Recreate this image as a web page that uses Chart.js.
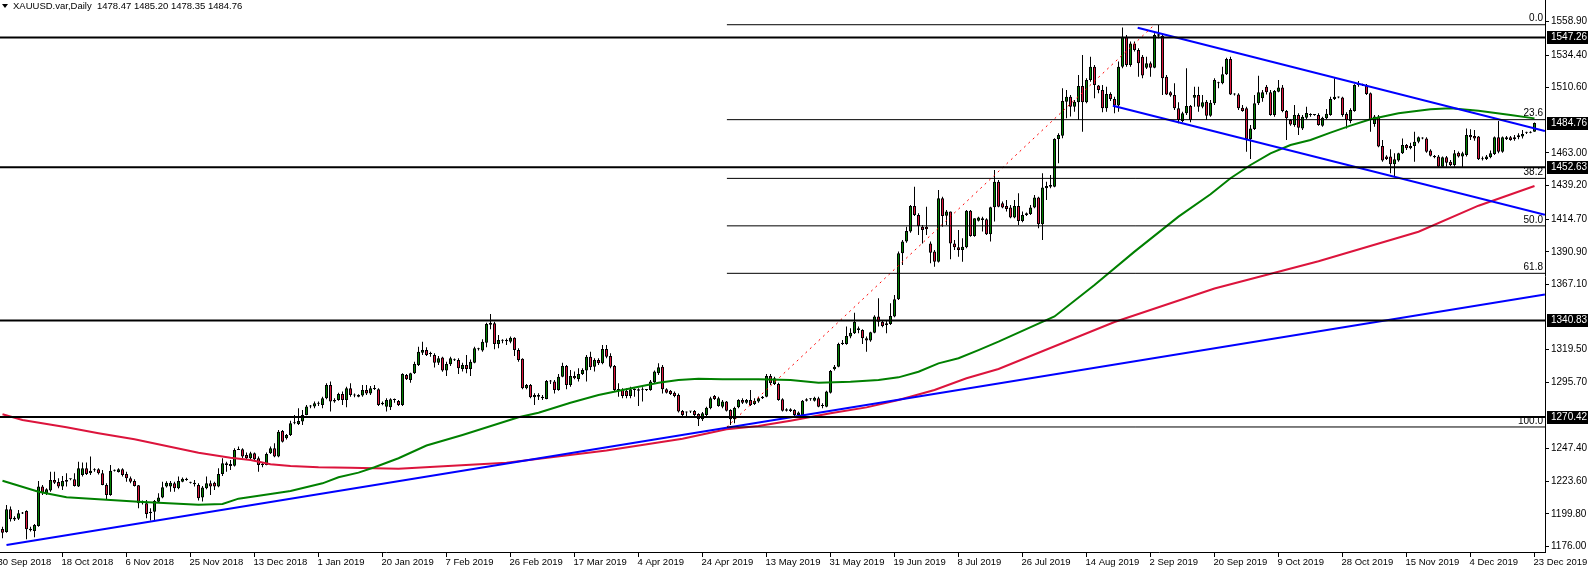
<!DOCTYPE html>
<html>
<head>
<meta charset="utf-8">
<script src="https://cdn.jsdelivr.net/npm/chart.js@4.4.1/dist/chart.umd.min.js"></script>
<style>
  html, body { margin: 0; padding: 0; background: #fff; }
  canvas { display: block; }
</style>
</head>
<body>
<canvas id="chart" width="1588" height="571"></canvas>
<script>
// daily bars, one per trading day (Sunday bars included), 1 Oct 2018 .. 23 Dec 2019
const opens = [
  1188.7, 1186.5, 1203.0, 1196.9, 1196.2, 1200.6, 1201.8, 1187.7, 1187.2, 1190.9,
  1219.6, 1214.7, 1216.7, 1224.4, 1223.0, 1219.6, 1223.2, 1224.9, 1224.9, 1219.6,
  1228.1, 1233.0, 1229.3, 1231.8, 1232.2, 1229.3, 1220.8, 1213.5, 1231.2, 1230.3,
  1232.2, 1228.8, 1225.7, 1223.7, 1220.5, 1207.4, 1207.4, 1201.3, 1201.3, 1208.6,
  1211.6, 1219.6, 1219.6, 1222.0, 1218.4, 1223.2, 1225.4, 1222.5, 1222.5, 1220.8,
  1211.6, 1218.4, 1222.0, 1222.5, 1219.6, 1228.8, 1235.4, 1236.1, 1234.9, 1246.8,
  1246.8, 1242.7, 1240.3, 1243.9, 1240.3, 1235.4, 1235.4, 1243.9, 1247.5, 1241.5,
  1260.2, 1254.8, 1257.3, 1265.8, 1265.3, 1267.0, 1271.9, 1278.0, 1278.0, 1280.0,
  1279.2, 1284.0, 1293.7, 1281.6, 1282.8, 1287.2, 1282.8, 1291.3, 1286.0, 1285.2,
  1286.0, 1290.1, 1287.6, 1290.8, 1290.6, 1279.6, 1277.9, 1277.4, 1282.8, 1282.0,
  1279.1, 1301.0, 1297.4, 1302.2, 1308.3, 1317.3, 1319.3, 1316.3, 1315.6, 1310.0,
  1313.7, 1304.2, 1308.8, 1312.5, 1312.0, 1305.4, 1308.3, 1305.4, 1310.0, 1319.8,
  1318.8, 1324.6, 1337.7, 1338.7, 1323.6, 1326.0, 1326.5, 1325.3, 1328.2, 1319.3,
  1312.9, 1291.3, 1293.7, 1284.7, 1286.4, 1285.2, 1283.5, 1296.2, 1296.2, 1290.1,
  1299.8, 1307.6, 1293.7, 1300.3, 1298.1, 1301.7, 1304.2, 1314.4, 1307.1, 1312.0,
  1309.5, 1320.0, 1314.9, 1307.6, 1290.1, 1290.3, 1289.6, 1285.7, 1290.1, 1290.6,
  1290.3, 1290.1, 1290.1, 1295.7, 1302.2, 1307.1, 1290.6, 1289.6, 1288.1, 1286.4,
  1274.8, 1273.6, 1274.3, 1274.8, 1272.6, 1268.7, 1271.8, 1276.7, 1285.7, 1278.4,
  1277.9, 1281.6, 1275.5, 1268.7, 1277.4, 1282.8, 1280.8, 1282.8, 1279.9, 1281.6,
  1284.0, 1285.2, 1300.3, 1294.5, 1294.5, 1283.3, 1276.0, 1274.8, 1275.5, 1271.8,
  1271.8, 1282.3, 1283.3, 1282.3, 1284.0, 1278.4, 1277.9, 1288.1, 1305.2, 1307.1,
  1323.6, 1323.6, 1329.0, 1331.4, 1335.1, 1333.9, 1327.8, 1326.1, 1331.9, 1343.6,
  1339.9, 1338.7, 1338.2, 1343.6, 1356.2, 1389.8, 1398.3, 1405.6, 1424.3, 1417.7,
  1409.2, 1409.2, 1397.0, 1391.0, 1383.7, 1429.9, 1417.2, 1420.2, 1397.0, 1394.1,
  1392.2, 1394.1, 1420.9, 1402.4, 1413.6, 1415.3, 1414.6, 1403.6, 1423.3, 1442.0,
  1426.3, 1424.3, 1423.1, 1415.8, 1424.3, 1413.4, 1417.7, 1418.5, 1423.1, 1430.4,
  1410.9, 1437.2, 1438.4, 1438.4, 1473.2, 1475.6, 1500.4, 1504.0, 1496.7, 1499.9,
  1511.8, 1499.9, 1516.2, 1525.9, 1512.1, 1508.9, 1495.5, 1506.0, 1502.3, 1497.5,
  1525.9, 1547.8, 1527.1, 1542.9, 1538.1, 1533.2, 1525.2, 1528.4, 1525.2, 1549.5,
  1548.5, 1518.6, 1507.2, 1505.3, 1495.5, 1486.3, 1491.9, 1497.2, 1503.3, 1505.2,
  1496.7, 1500.4, 1490.2, 1499.2, 1513.8, 1513.8, 1520.3, 1531.5, 1505.7, 1505.7,
  1496.0, 1495.5, 1473.2, 1480.4, 1499.2, 1502.8, 1511.3, 1507.2, 1490.7, 1507.7,
  1510.8, 1493.6, 1487.0, 1483.4, 1490.7, 1480.9, 1488.7, 1490.7, 1490.7, 1490.7,
  1482.9, 1488.2, 1490.7, 1502.3, 1503.5, 1503.5, 1491.4, 1486.3, 1493.6, 1512.5,
  1512.5, 1511.8, 1506.5, 1484.1, 1489.5, 1468.1, 1460.3, 1460.3, 1454.7, 1457.4,
  1462.7, 1468.8, 1466.4, 1468.1, 1471.2, 1473.6, 1473.6, 1464.7, 1460.8, 1460.3,
  1453.0, 1459.8, 1456.6, 1454.2, 1463.2, 1460.3, 1461.5, 1476.1, 1475.4, 1474.9,
  1459.1, 1458.6, 1459.8, 1462.2, 1474.4, 1463.9, 1473.0, 1474.4, 1472.9, 1474.4,
  1474.9, 1477.8, 1477.8, 1478.47
];
const highs = [
  1190.4, 1206.2, 1205.0, 1198.0, 1202.6, 1201.0, 1202.3, 1190.4, 1192.4, 1223.7,
  1220.8, 1218.4, 1230.5, 1230.5, 1225.7, 1227.4, 1229.3, 1225.6, 1229.3, 1237.8,
  1237.1, 1237.1, 1241.5, 1232.9, 1233.0, 1231.7, 1222.0, 1235.4, 1232.0, 1233.0,
  1232.9, 1230.5, 1226.9, 1224.9, 1220.8, 1209.5, 1209.9, 1203.8, 1209.9, 1214.7,
  1223.2, 1223.5, 1223.7, 1223.2, 1226.9, 1226.2, 1226.0, 1223.2, 1224.4, 1222.0,
  1220.1, 1226.9, 1224.0, 1223.2, 1233.0, 1240.3, 1237.8, 1239.0, 1247.5, 1248.8,
  1247.5, 1244.4, 1245.1, 1244.4, 1241.5, 1237.1, 1244.4, 1248.8, 1251.2, 1260.9,
  1260.9, 1258.0, 1267.7, 1271.9, 1276.7, 1275.5, 1279.2, 1279.2, 1281.6, 1281.6,
  1285.2, 1294.9, 1296.2, 1284.0, 1288.1, 1288.9, 1292.5, 1294.9, 1287.6, 1287.0,
  1293.7, 1293.7, 1293.0, 1293.7, 1291.3, 1281.6, 1284.0, 1284.0, 1283.8, 1282.8,
  1302.2, 1301.7, 1302.7, 1310.7, 1321.7, 1325.3, 1321.2, 1318.0, 1316.8, 1314.9,
  1314.4, 1310.7, 1314.4, 1313.0, 1313.2, 1310.0, 1315.6, 1312.4, 1321.7, 1320.8,
  1327.0, 1339.2, 1345.5, 1339.9, 1330.2, 1327.0, 1327.7, 1329.0, 1328.5, 1320.5,
  1313.2, 1294.5, 1294.5, 1287.7, 1287.7, 1286.4, 1297.4, 1297.4, 1297.4, 1301.7,
  1310.0, 1308.3, 1304.7, 1303.5, 1305.9, 1305.9, 1315.6, 1318.0, 1313.2, 1313.2,
  1322.9, 1322.9, 1316.8, 1308.3, 1294.9, 1291.3, 1291.3, 1292.5, 1291.3, 1291.3,
  1292.0, 1290.8, 1297.4, 1304.2, 1309.5, 1308.3, 1291.3, 1290.1, 1288.9, 1287.6,
  1275.5, 1274.3, 1274.8, 1275.5, 1273.1, 1274.0, 1277.9, 1285.2, 1286.4, 1285.2,
  1282.8, 1282.0, 1276.0, 1277.9, 1283.3, 1284.0, 1283.5, 1290.1, 1284.0, 1285.2,
  1285.7, 1301.7, 1301.7, 1299.8, 1295.4, 1284.0, 1276.7, 1276.7, 1276.0, 1274.3,
  1282.8, 1284.0, 1284.0, 1285.2, 1285.2, 1280.4, 1289.6, 1304.7, 1308.3, 1324.6,
  1326.5, 1336.3, 1335.1, 1346.5, 1336.3, 1334.3, 1329.0, 1332.6, 1344.5, 1356.9,
  1341.1, 1341.1, 1353.3, 1359.4, 1391.0, 1399.5, 1409.2, 1425.0, 1438.4, 1418.9,
  1410.4, 1423.8, 1398.3, 1392.2, 1436.0, 1431.1, 1421.4, 1420.2, 1399.5, 1406.8,
  1400.7, 1421.4, 1421.4, 1415.3, 1416.5, 1416.5, 1415.3, 1423.8, 1450.5, 1443.2,
  1427.5, 1428.7, 1425.0, 1428.7, 1433.5, 1420.2, 1419.6, 1425.0, 1432.3, 1431.1,
  1448.1, 1442.0, 1446.9, 1473.7, 1477.3, 1510.1, 1508.9, 1505.3, 1501.6, 1519.8,
  1534.4, 1517.4, 1533.2, 1527.1, 1512.5, 1512.5, 1511.3, 1507.2, 1504.0, 1529.6,
  1554.4, 1549.0, 1544.2, 1544.2, 1539.3, 1534.4, 1533.2, 1529.6, 1550.2, 1556.3,
  1549.0, 1519.8, 1508.0, 1513.8, 1499.9, 1493.1, 1524.7, 1497.9, 1511.3, 1511.3,
  1505.2, 1501.6, 1501.6, 1517.4, 1515.0, 1525.9, 1532.5, 1533.2, 1506.5, 1506.5,
  1497.9, 1496.7, 1483.4, 1505.2, 1519.3, 1508.9, 1512.5, 1508.9, 1508.9, 1516.2,
  1512.5, 1494.3, 1487.7, 1497.9, 1491.9, 1490.7, 1496.7, 1491.9, 1491.4, 1491.9,
  1489.4, 1495.0, 1504.0, 1517.4, 1504.2, 1504.0, 1492.6, 1495.5, 1513.0, 1515.5,
  1513.5, 1513.3, 1507.0, 1490.7, 1490.7, 1472.4, 1461.3, 1465.6, 1462.7, 1463.2,
  1473.6, 1469.5, 1470.5, 1478.5, 1474.9, 1474.4, 1474.4, 1465.6, 1461.5, 1461.5,
  1460.3, 1460.8, 1457.9, 1465.2, 1464.0, 1463.9, 1480.9, 1480.2, 1479.7, 1475.4,
  1460.3, 1461.5, 1464.7, 1474.9, 1486.3, 1474.9, 1475.4, 1475.4, 1476.1, 1477.3,
  1479.7, 1478.5, 1478.8, 1485.20
];
const lows = [
  1181.9, 1186.0, 1194.1, 1194.5, 1195.3, 1199.6, 1181.2, 1186.8, 1182.6, 1190.4,
  1213.5, 1213.5, 1215.9, 1221.5, 1218.4, 1217.1, 1219.6, 1224.2, 1219.6, 1219.3,
  1226.9, 1228.1, 1228.1, 1230.5, 1228.5, 1220.6, 1209.9, 1213.0, 1230.6, 1229.8,
  1226.9, 1223.2, 1222.0, 1219.6, 1203.8, 1206.5, 1196.5, 1194.8, 1195.3, 1207.9,
  1211.1, 1219.0, 1215.9, 1215.9, 1217.6, 1222.7, 1223.9, 1221.8, 1219.6, 1209.4,
  1208.7, 1217.6, 1213.5, 1217.2, 1219.1, 1227.4, 1230.5, 1231.7, 1234.2, 1246.3,
  1240.3, 1239.0, 1239.0, 1238.5, 1230.5, 1233.7, 1235.2, 1243.4, 1241.0, 1241.0,
  1251.7, 1254.0, 1256.5, 1265.0, 1264.6, 1264.6, 1271.6, 1276.7, 1276.7, 1278.4,
  1276.7, 1283.3, 1274.3, 1280.8, 1282.3, 1279.2, 1277.4, 1285.2, 1284.8, 1284.8,
  1285.2, 1286.4, 1286.4, 1290.1, 1278.4, 1279.0, 1274.3, 1275.5, 1280.8, 1278.4,
  1278.4, 1297.4, 1295.4, 1301.7, 1307.6, 1315.6, 1314.9, 1314.4, 1306.4, 1308.3,
  1303.4, 1300.3, 1307.6, 1311.3, 1301.7, 1303.5, 1302.2, 1300.3, 1309.5, 1318.8,
  1318.0, 1321.2, 1334.3, 1319.7, 1320.5, 1324.1, 1322.9, 1324.1, 1314.9, 1310.7,
  1290.6, 1290.6, 1284.0, 1279.1, 1282.8, 1282.8, 1283.3, 1294.5, 1287.6, 1289.6,
  1299.3, 1290.6, 1292.5, 1297.9, 1296.2, 1301.0, 1296.2, 1304.7, 1303.5, 1308.3,
  1308.8, 1313.2, 1305.9, 1288.9, 1285.2, 1284.0, 1284.0, 1284.0, 1285.2, 1278.4,
  1281.6, 1289.4, 1289.6, 1294.9, 1301.0, 1287.6, 1287.6, 1286.4, 1284.7, 1273.6,
  1270.6, 1270.1, 1273.3, 1270.6, 1263.8, 1267.5, 1271.1, 1276.0, 1282.8, 1277.9,
  1276.7, 1274.3, 1264.6, 1265.8, 1276.7, 1279.9, 1280.1, 1278.4, 1279.2, 1280.8,
  1283.5, 1284.7, 1293.7, 1293.7, 1282.3, 1274.3, 1274.3, 1274.0, 1271.1, 1271.1,
  1271.6, 1281.6, 1282.3, 1281.6, 1277.4, 1276.7, 1277.4, 1287.6, 1304.2, 1306.6,
  1322.9, 1323.1, 1327.8, 1330.9, 1331.4, 1323.6, 1318.0, 1325.3, 1331.4, 1336.3,
  1335.8, 1331.4, 1337.5, 1343.1, 1355.7, 1381.3, 1397.5, 1404.8, 1417.0, 1403.1,
  1397.0, 1403.1, 1382.5, 1380.0, 1383.0, 1409.2, 1410.4, 1385.4, 1392.2, 1387.3,
  1383.7, 1393.4, 1401.9, 1401.9, 1413.0, 1405.6, 1403.1, 1398.3, 1412.9, 1423.3,
  1422.6, 1420.2, 1415.3, 1415.3, 1410.4, 1412.4, 1417.0, 1417.7, 1422.6, 1408.0,
  1399.5, 1428.7, 1437.2, 1437.9, 1455.4, 1473.7, 1488.2, 1489.5, 1493.1, 1487.0,
  1478.5, 1499.2, 1515.0, 1502.8, 1506.5, 1492.6, 1493.1, 1500.9, 1491.9, 1493.1,
  1524.7, 1525.9, 1525.9, 1536.9, 1518.6, 1517.4, 1524.2, 1518.6, 1524.7, 1546.6,
  1505.3, 1505.3, 1504.0, 1494.3, 1484.6, 1485.3, 1490.7, 1485.3, 1496.7, 1493.1,
  1495.5, 1487.0, 1489.4, 1497.9, 1510.1, 1513.0, 1519.8, 1505.2, 1504.8, 1494.3,
  1493.1, 1463.9, 1458.6, 1479.7, 1498.0, 1500.4, 1505.7, 1490.2, 1489.4, 1507.2,
  1492.6, 1472.4, 1482.9, 1482.1, 1476.1, 1479.7, 1487.7, 1489.4, 1490.2, 1482.9,
  1482.1, 1487.7, 1490.2, 1501.6, 1502.8, 1489.4, 1480.9, 1484.6, 1493.1, 1511.3,
  1511.8, 1505.3, 1478.5, 1482.1, 1467.1, 1456.6, 1457.9, 1448.1, 1445.7, 1456.6,
  1462.2, 1465.2, 1465.6, 1456.6, 1470.0, 1472.9, 1463.2, 1460.3, 1459.1, 1452.5,
  1452.5, 1453.0, 1453.5, 1453.0, 1459.6, 1452.5, 1460.3, 1472.4, 1471.9, 1457.9,
  1457.4, 1457.9, 1459.1, 1461.5, 1462.7, 1463.2, 1472.4, 1471.9, 1471.9, 1472.9,
  1473.6, 1476.8, 1477.3, 1478.35
];
const closes = [
  1186.0, 1203.0, 1195.8, 1195.6, 1200.1, 1200.0, 1188.5, 1188.9, 1191.6, 1219.6,
  1215.2, 1217.6, 1224.4, 1222.5, 1219.6, 1223.7, 1224.4, 1224.9, 1220.1, 1233.0,
  1233.0, 1228.8, 1231.2, 1231.6, 1229.3, 1220.8, 1213.5, 1231.2, 1231.4, 1232.2,
  1228.1, 1225.7, 1223.2, 1220.1, 1207.4, 1208.6, 1199.6, 1200.1, 1209.1, 1211.6,
  1219.1, 1222.5, 1222.5, 1218.4, 1223.7, 1225.4, 1224.4, 1222.5, 1221.3, 1211.1,
  1218.9, 1222.0, 1219.6, 1219.6, 1228.8, 1236.6, 1236.6, 1234.7, 1246.3, 1246.3,
  1241.5, 1240.3, 1243.9, 1239.5, 1235.4, 1235.6, 1243.4, 1247.5, 1241.5, 1259.7,
  1252.4, 1257.3, 1265.8, 1266.0, 1267.5, 1271.9, 1278.0, 1278.2, 1280.4, 1280.0,
  1284.0, 1293.7, 1281.6, 1282.8, 1287.2, 1282.8, 1291.3, 1286.4, 1286.0, 1286.4,
  1290.1, 1287.6, 1291.3, 1290.8, 1279.2, 1280.8, 1282.8, 1283.3, 1282.8, 1279.1,
  1301.7, 1297.9, 1302.2, 1309.0, 1318.0, 1319.3, 1315.6, 1316.3, 1310.0, 1313.2,
  1304.2, 1309.0, 1313.2, 1311.8, 1305.9, 1308.3, 1305.4, 1310.7, 1320.5, 1319.8,
  1325.3, 1338.2, 1339.2, 1323.6, 1326.5, 1326.8, 1325.6, 1328.2, 1319.3, 1312.0,
  1291.3, 1293.7, 1284.7, 1286.4, 1285.2, 1284.0, 1296.6, 1296.2, 1290.1, 1299.8,
  1307.6, 1293.7, 1300.3, 1298.6, 1301.7, 1304.7, 1314.4, 1306.6, 1312.0, 1309.5,
  1320.0, 1314.4, 1307.1, 1290.1, 1290.3, 1285.7, 1285.7, 1290.6, 1290.3, 1289.6,
  1290.6, 1290.1, 1296.2, 1303.5, 1306.6, 1290.6, 1288.1, 1287.2, 1285.7, 1274.3,
  1271.8, 1273.6, 1274.3, 1271.8, 1268.7, 1273.1, 1277.2, 1284.0, 1283.5, 1284.0,
  1281.6, 1275.0, 1268.7, 1277.0, 1282.8, 1280.8, 1282.8, 1279.2, 1282.3, 1284.0,
  1285.2, 1300.3, 1294.9, 1298.6, 1282.8, 1275.0, 1275.0, 1276.0, 1271.8, 1273.6,
  1282.3, 1283.3, 1283.3, 1284.5, 1277.9, 1278.4, 1288.9, 1303.9, 1307.1, 1323.6,
  1324.6, 1329.5, 1331.9, 1339.9, 1333.9, 1327.8, 1326.1, 1332.1, 1343.6, 1339.9,
  1336.8, 1337.5, 1344.0, 1356.2, 1389.8, 1398.3, 1406.0, 1424.3, 1417.7, 1409.7,
  1406.8, 1407.3, 1390.2, 1383.7, 1429.9, 1417.0, 1420.2, 1397.0, 1394.1, 1392.2,
  1394.6, 1420.9, 1402.4, 1415.3, 1415.8, 1414.1, 1403.6, 1423.3, 1442.0, 1423.8,
  1423.1, 1422.1, 1415.8, 1424.3, 1413.4, 1417.7, 1418.9, 1423.1, 1430.4, 1410.9,
  1437.7, 1438.9, 1439.6, 1473.2, 1476.1, 1500.9, 1504.0, 1496.7, 1500.4, 1511.8,
  1499.9, 1516.2, 1525.9, 1512.5, 1508.9, 1495.5, 1506.0, 1502.3, 1497.5, 1525.9,
  1547.8, 1527.1, 1542.9, 1538.1, 1528.4, 1519.4, 1528.4, 1525.2, 1549.0, 1548.5,
  1517.4, 1505.7, 1504.8, 1495.5, 1487.0, 1491.9, 1497.2, 1487.0, 1505.2, 1496.7,
  1499.9, 1490.2, 1499.6, 1516.2, 1513.8, 1520.3, 1531.5, 1505.7, 1505.7, 1495.5,
  1493.6, 1473.2, 1480.9, 1499.2, 1507.2, 1507.2, 1507.2, 1490.7, 1508.2, 1510.8,
  1493.6, 1488.2, 1483.8, 1490.7, 1481.4, 1489.4, 1492.1, 1490.7, 1490.9, 1483.4,
  1488.7, 1491.6, 1502.3, 1504.0, 1503.5, 1490.7, 1487.0, 1494.3, 1512.5, 1513.8,
  1512.8, 1506.0, 1487.0, 1489.5, 1467.6, 1457.4, 1458.6, 1454.7, 1458.4, 1462.7,
  1468.8, 1466.4, 1468.1, 1471.2, 1474.4, 1473.6, 1463.9, 1461.0, 1459.8, 1453.0,
  1459.8, 1455.9, 1454.2, 1462.7, 1460.3, 1462.7, 1476.1, 1474.4, 1473.6, 1458.4,
  1458.4, 1460.3, 1462.7, 1474.4, 1463.9, 1474.4, 1474.4, 1472.4, 1474.4, 1475.9,
  1476.8, 1477.8, 1478.3, 1484.76
];

// time axis: a label every 16 bars, the first one falls one bar before bar 0
const dateLabels = ['30 Sep 2018', '18 Oct 2018', '6 Nov 2018', '25 Nov 2018', '13 Dec 2018',
  '1 Jan 2019', '20 Jan 2019', '7 Feb 2019', '26 Feb 2019', '17 Mar 2019', '4 Apr 2019',
  '24 Apr 2019', '13 May 2019', '31 May 2019', '19 Jun 2019', '8 Jul 2019', '26 Jul 2019',
  '14 Aug 2019', '2 Sep 2019', '20 Sep 2019', '9 Oct 2019', '28 Oct 2019', '15 Nov 2019',
  '4 Dec 2019', '23 Dec 2019'];
const dateTickBars = dateLabels.map((d, j) => -1 + 16 * j);

const priceTicks = [1558.90, 1534.40, 1510.60, 1463.00, 1439.20, 1414.70, 1390.90, 1367.10,
  1319.50, 1295.70, 1247.40, 1223.60, 1199.80, 1176.00];

// moving averages at these bars
const greenMaBars = [0, 9, 16, 24, 34, 49, 55, 59, 67, 72, 80, 84, 89, 93, 99, 106, 115, 129, 134, 142,
  149, 155, 164, 169, 174, 180, 189, 197, 204, 212, 219, 224, 229, 234, 239, 244, 249, 263, 273, 283,
  294, 302, 307, 312, 317, 322, 327, 332, 337, 342, 349, 357, 362, 369, 377, 383];
const greenMaVals = [1223.9, 1215.9, 1211.8, 1210.4, 1208.6, 1206.4, 1206.9, 1210.8, 1214.2, 1216.4,
  1222.0, 1226.4, 1229.8, 1233.7, 1240.3, 1249.6, 1257.3, 1270.2, 1273.5, 1280.8,
  1286.4, 1290.1, 1295.4, 1297.4, 1298.3, 1297.9, 1297.9, 1297.4, 1295.4, 1296.1,
  1297.4, 1299.3, 1303.4, 1309.5, 1313.2, 1319.2, 1325.3, 1343.7, 1366.7, 1391.0,
  1416.5, 1432.8, 1444.5, 1454.2, 1462.7, 1468.8, 1472.4, 1477.8, 1482.9, 1487.5,
  1491.9, 1494.8, 1495.5, 1493.8, 1490.7, 1488.2];
const redMaBars = [0, 5, 16, 24, 33, 41, 49, 57, 62, 67, 72, 79, 87, 99, 126, 151, 170, 181, 189, 197,
  207, 216, 224, 233, 241, 249, 278, 303, 329, 354, 369, 383];
const redMaVals = [1272.4, 1268.2, 1262.9, 1258.5, 1254.1, 1249.2, 1244.3, 1240.7, 1239.0, 1235.9,
  1234.6, 1233.7, 1233.4, 1232.7, 1237.0, 1246.0, 1254.5, 1261.4, 1263.8, 1267.7,
  1273.1, 1277.4, 1282.8, 1290.1, 1298.6, 1305.4, 1339.7, 1364.1, 1384.0, 1405.5,
  1424.5, 1438.9];

// drawn objects
const levelPrices = [1547.26, 1452.63, 1340.83, 1270.42];
const fibPcts = [0, 23.6, 38.2, 50, 61.8, 100];
const fibHigh = 1556.5, fibLow = 1263.1;
const fibStartBar = 181.1, fibHighBar = 288;
const supportBars = [1, 385.6], supportVals = [1177.0, 1359.7];
const channelTopBars = [283.8, 385.6], channelTopVals = [1554.3, 1478.9];
const channelLowBars = [277.6, 385.6], channelLowVals = [1497.4, 1417.9];

const xMin = -0.625, xMax = 385.625;
const yMin = 1171.9, yMax = 1574.54;
const fontFamily = '"Liberation Sans", Arial, sans-serif';
const n = closes.length;

const bodies = [], wicks = [], bodyColors = [];
for (let i = 0; i < n; i++) {
  bodies.push({ x: i, y: [opens[i], closes[i]] });
  wicks.push({ x: i, y: [lows[i], highs[i]] });
  bodyColors.push(closes[i] >= opens[i] ? '#008000' : '#dc143c');
}

function pts(bars, vals) {
  return bars.map((b, i) => ({ x: b, y: vals[i] }));
}
function lineSet(data, color, width, extra) {
  return Object.assign({
    type: 'line', data: data, borderColor: color, borderWidth: width,
    pointRadius: 0, pointHoverRadius: 0, fill: false, tension: 0, order: 1
  }, extra || {});
}

const datasets = [];
levelPrices.forEach(p => datasets.push(lineSet(pts([xMin, xMax], [p, p]), '#000', 2)));
fibPcts.forEach(pct => {
  const v = fibHigh - (fibHigh - fibLow) * pct / 100;
  datasets.push(lineSet(pts([fibStartBar, xMax], [v, v]), '#000', 1));
});
datasets.push(lineSet(pts([fibStartBar, fibHighBar], [fibLow, fibHigh]), '#ff0000', 1, { borderDash: [2, 4] }));
datasets.push(lineSet(pts(supportBars, supportVals), '#0000ff', 2));
datasets.push(lineSet(pts(channelTopBars, channelTopVals), '#0000ff', 2));
datasets.push(lineSet(pts(channelLowBars, channelLowVals), '#0000ff', 2));
datasets.push(lineSet(pts(greenMaBars, greenMaVals), '#008000', 2, { order: 2 }));
datasets.push(lineSet(pts(redMaBars, redMaVals), '#dc143c', 2, { order: 2 }));
datasets.push({
  type: 'bar', data: bodies, backgroundColor: bodyColors, borderColor: '#000', borderWidth: 1,
  borderSkipped: false, barThickness: 3, minBarLength: 1, grouped: false, inflateAmount: 0, order: 3
});
datasets.push({
  type: 'bar', data: wicks, backgroundColor: '#000', borderWidth: 0,
  barThickness: 1, grouped: false, inflateAmount: 0, order: 4
});

const overlayText = {
  id: 'overlayText',
  beforeDraw(chart) {
    const c = chart.ctx;
    c.save();
    c.fillStyle = '#fff';
    c.fillRect(0, 0, chart.width, chart.height);
    c.restore();
  },
  afterDraw(chart) {
    const c = chart.ctx, y = chart.scales.y, area = chart.chartArea;
    c.save();
    c.font = '10px ' + fontFamily;
    // fibo level captions
    c.fillStyle = '#000';
    c.textAlign = 'right';
    c.textBaseline = 'bottom';
    fibPcts.forEach(pct => {
      const v = fibHigh - (fibHigh - fibLow) * pct / 100;
      c.fillText(pct.toFixed(1), area.right - 2, y.getPixelForValue(v) - 1);
    });
    // highlighted prices on the axis
    levelPrices.concat([closes[n - 1]]).forEach(v => {
      const py = Math.round(y.getPixelForValue(v));
      c.fillStyle = '#000';
      c.fillRect(area.right + 2, py - 6, chart.width - area.right - 2, 13);
      c.fillStyle = '#fff';
      c.textAlign = 'left';
      c.textBaseline = 'middle';
      c.fillText(v.toFixed(2), area.right + 6, py + 0.5);
    });
    // title
    c.fillStyle = '#000';
    c.beginPath();
    c.moveTo(2, 4); c.lineTo(8, 4); c.lineTo(5, 8); c.closePath();
    c.fill();
    c.font = '9.5px ' + fontFamily;
    c.textAlign = 'left';
    c.textBaseline = 'middle';
    const last = [opens[n - 1], highs[n - 1], lows[n - 1], closes[n - 1]].map(v => v.toFixed(2)).join(' ');
    c.fillText('XAUUSD.var,Daily  ' + last, 13, 6.5);
    c.restore();
  }
};

new Chart(document.getElementById('chart'), {
  type: 'bar',
  data: { datasets: datasets },
  plugins: [overlayText],
  options: {
    responsive: false,
    animation: false,
    events: [],
    layout: { padding: 0, autoPadding: false },
    plugins: { legend: { display: false }, tooltip: { enabled: false } },
    scales: {
      x: {
        type: 'linear', min: xMin, max: xMax, offset: false,
        grid: { drawOnChartArea: false, offset: false, tickLength: 5, color: '#000' },
        border: { color: '#000', width: 1 },
        ticks: {
          autoSkip: false, maxRotation: 0, minRotation: 0, align: 'start', padding: 0, labelOffset: -1,
          color: '#000', font: { family: fontFamily, size: 9.5 },
          callback: (v, i) => dateLabels[i]
        },
        afterBuildTicks: s => { s.ticks = dateTickBars.map(v => ({ value: v })); },
        afterFit: s => { s.height = 19; s.paddingLeft = 0; s.paddingRight = 0; }
      },
      y: {
        position: 'right', min: yMin, max: yMax, beginAtZero: false,
        grid: { drawOnChartArea: false, tickLength: 4, color: '#000' },
        border: { color: '#000', width: 1 },
        ticks: {
          autoSkip: false, padding: 2, color: '#000', font: { family: fontFamily, size: 10 },
          callback: v => v.toFixed(2)
        },
        afterBuildTicks: s => { s.ticks = priceTicks.map(v => ({ value: v })); },
        afterFit: s => { s.width = 43; s.paddingTop = 0; s.paddingBottom = 0; }
      }
    }
  }
});
</script>
</body>
</html>
